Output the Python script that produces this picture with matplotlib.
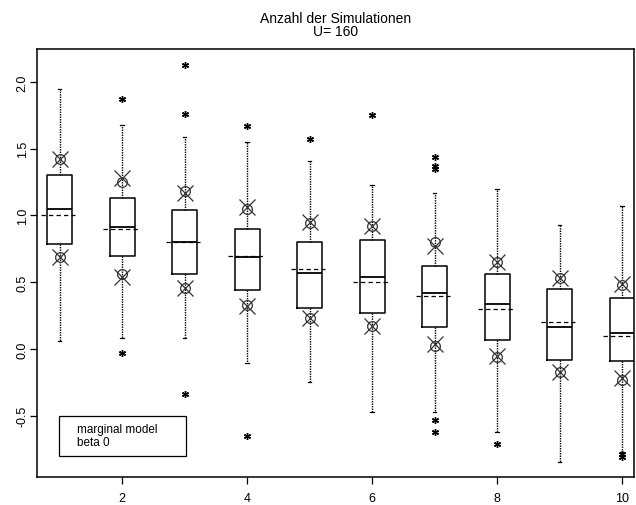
import numpy as np
import matplotlib.pyplot as plt
from matplotlib.patches import Rectangle

plt.rcParams['font.family'] = ['Liberation Sans', 'DejaVu Sans']

# Boxplot-Kennzahlen je Clustergroesse 1..10
pos = np.arange(1, 11)
med = [1.05, 0.91, 0.80, 0.69, 0.57, 0.54, 0.42, 0.34, 0.165, 0.12]
q1 = [0.79, 0.70, 0.56, 0.44, 0.31, 0.27, 0.165, 0.07, -0.08, -0.09]
q3 = [1.30, 1.13, 1.04, 0.90, 0.80, 0.82, 0.62, 0.56, 0.45, 0.38]
whislo = [0.06, 0.08, 0.08, -0.105, -0.25, -0.47, -0.47, -0.62, -0.85, -0.77]
whishi = [1.95, 1.68, 1.59, 1.55, 1.41, 1.23, 1.17, 1.20, 0.93, 1.07]
fliers = [[], [1.87, -0.03], [2.13, 1.76, -0.34], [1.67, -0.65], [1.57],
          [1.75], [1.44, 1.37, 1.35, -0.53, -0.62], [-0.71], [],
          [-0.79, -0.81]]

# wahrer Wert beta 0
truth = [1.0, 0.9, 0.8, 0.7, 0.6, 0.5, 0.4, 0.3, 0.2, 0.1]

# Grenzen (Kreis und Kreuz)
circ_hi = [1.42, 1.25, 1.18, 1.05, 0.94, 0.92, 0.80, 0.65, 0.53, 0.48]
circ_lo = [0.69, 0.56, 0.46, 0.33, 0.23, 0.17, 0.02, -0.06, -0.17, -0.23]
cross_hi = [1.42, 1.28, 1.17, 1.06, 0.95, 0.92, 0.77, 0.65, 0.53, 0.49]
cross_lo = [0.69, 0.54, 0.46, 0.32, 0.23, 0.17, 0.04, -0.05, -0.17, -0.22]

fig = plt.figure(figsize=(6.36, 5.06), dpi=100)
ax = fig.add_axes([37 / 636, 28 / 506, 597 / 636, 428 / 506])

stats = []
for i in range(len(pos)):
    stats.append(dict(med=med[i], q1=q1[i], q3=q3[i], whislo=whislo[i],
                      whishi=whishi[i], fliers=fliers[i]))

ax.bxp(stats, positions=pos, widths=0.4, capwidths=0.06, showfliers=True,
       boxprops=dict(color='black', linewidth=1.1),
       medianprops=dict(color='black', linewidth=1.3),
       whiskerprops=dict(color='black', linewidth=1.0, linestyle=(0, (1, 0.8))),
       capprops=dict(color='black', linewidth=0.9),
       flierprops=dict(marker=(6, 2, 0), markersize=5, markeredgecolor='black',
                       markeredgewidth=1.0, linestyle='none'))

ax.hlines(truth, pos - 0.3, pos + 0.25, colors='black', linestyles=(0, (3.5, 2.5)),
          linewidth=0.9, zorder=3)

ax.plot(pos, circ_hi, 'o', mfc='none', mec='#333333', ms=7, mew=0.9, ls='none')
ax.plot(pos, circ_lo, 'o', mfc='none', mec='#333333', ms=7, mew=0.9, ls='none')
ax.plot(pos, cross_hi, 'x', mec='#333333', ms=12, mew=0.9, ls='none')
ax.plot(pos, cross_lo, 'x', mec='#333333', ms=12, mew=0.9, ls='none')

ax.set_xlim(0.64, 10.19)
ax.set_ylim(-0.959, 2.247)
ax.set_xticks([2, 4, 6, 8, 10])
ax.set_xticklabels(['2', '4', '6', '8', '10'])
ax.set_yticks([-0.5, 0.0, 0.5, 1.0, 1.5, 2.0])
ax.set_yticklabels(['-0.5', '0.0', '0.5', '1.0', '1.5', '2.0'], rotation=90, va='center')
ax.tick_params(direction='out', length=5, width=0.9, labelsize=9)
ax.tick_params(axis='x', pad=6)
ax.tick_params(axis='y', pad=1)
for s in ax.spines.values():
    s.set_linewidth(1.1)

ax.add_patch(Rectangle((0.99, -0.80), 2.03, 0.30, fill=False, edgecolor='black',
                       linewidth=0.9, zorder=4))
ax.text(1.28, -0.6, 'marginal model', fontsize=8.5, va='center')
ax.text(1.28, -0.70, 'beta 0', fontsize=8.5, va='center')

ax.set_title('Anzahl der Simulationen\nU= 160', fontsize=10, linespacing=0.95, pad=10)

fig.savefig('out.png', dpi=100)
